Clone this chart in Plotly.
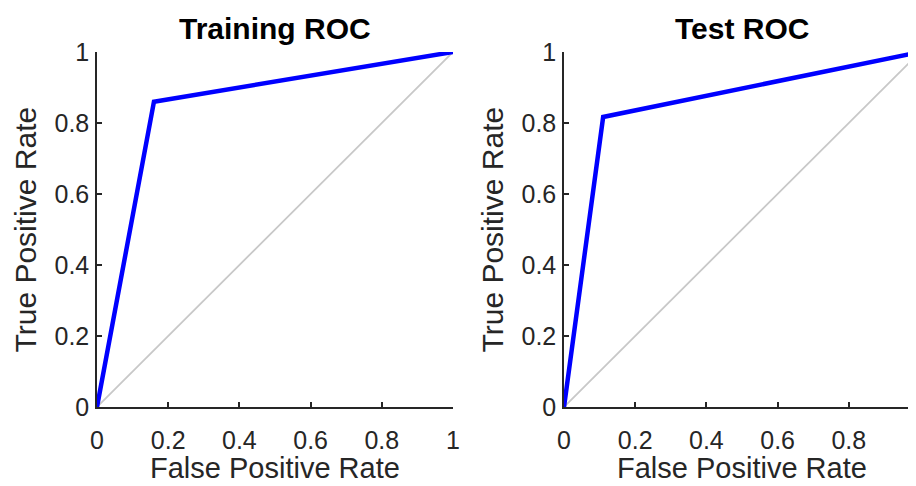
import plotly.graph_objects as go

# ---- data ----
train_fpr = [0, 0.16, 1]
train_tpr = [0, 0.86, 1]
test_fpr = [0, 0.11, 1]
test_tpr = [0, 0.817, 1]
diag_x = [0, 1]
diag_y = [0, 1]
tick_vals = [0, 0.2, 0.4, 0.6, 0.8, 1]
tick_text = ["0", "0.2", "0.4", "0.6", "0.8", "1"]
titles = ["Training ROC", "Test ROC"]
x_title = "False Positive Rate"
y_title = "True Positive Rate"

# the page body has an 8px margin, so the figure is drawn 8px smaller and shifted
OFF = 8
W, H = 916 - OFF, 486 - OFF
FONT = "Liberation Sans, Arial, Helvetica, sans-serif"
AX = "#262626"

# pixel geometry (in window pixels, converted below)
ax_l = [97 - OFF, 564 - OFF]
ax_w = 356
y_top, y_bot = 52 - OFF, 407 - OFF

fig = go.Figure()

for i, (fx, fy) in enumerate([(train_fpr, train_tpr), (test_fpr, test_tpr)]):
    xa = "x" if i == 0 else "x2"
    ya = "y" if i == 0 else "y2"
    fig.add_trace(go.Scatter(x=diag_x, y=diag_y, mode="lines",
                             line=dict(color="#c8c8c8", width=1.8),
                             xaxis=xa, yaxis=ya, showlegend=False, hoverinfo="skip"))
    fig.add_trace(go.Scatter(x=fx, y=fy, mode="lines",
                             line=dict(color="#0000ff", width=4.5),
                             xaxis=xa, yaxis=ya, showlegend=False))

common = dict(
    showgrid=False, zeroline=False, showline=True, linecolor=AX, linewidth=1.5,
    ticks="inside", ticklen=5, tickwidth=1.5, tickcolor=AX,
    tickvals=tick_vals, ticktext=tick_text,
    tickfont=dict(family=FONT, size=25, color=AX),
    mirror=False, fixedrange=True, automargin=False,
)

def dom_x(i):
    a = ax_l[i] / W
    b = min((ax_l[i] + ax_w) / W, 1.0)
    return [a, b]

ydom = [(H - y_bot) / H, (H - y_top) / H]

right_w = W - ax_l[1]
layout = dict(
    template="none",
    width=W, height=H, margin=dict(l=0, r=0, t=0, b=0, pad=0),
    paper_bgcolor="white", plot_bgcolor="white",
    font=dict(family=FONT, color=AX),
    xaxis=dict(common, domain=dom_x(0), range=[0, 1], anchor="y", ticklabelstandoff=10),
    yaxis=dict(common, domain=ydom, range=[0, 1], anchor="x", ticklabelstandoff=1),
    xaxis2=dict(common, domain=dom_x(1), range=[0, right_w / ax_w], anchor="y2", ticklabelstandoff=10),
    yaxis2=dict(common, domain=ydom, range=[0, 1], anchor="x2", ticklabelstandoff=1),
)
fig.update_layout(**layout)

annos = []
for i in range(2):
    cx = (ax_l[i] + ax_w / 2) / W
    annos.append(dict(text="<b>%s</b>" % titles[i], x=cx, y=(H - (28 - OFF)) / H,
                      xref="paper", yref="paper", showarrow=False,
                      xanchor="center", yanchor="middle",
                      font=dict(family=FONT, size=30, color="#000000")))
    annos.append(dict(text=x_title, x=cx, y=(H - (468 - OFF)) / H,
                      xref="paper", yref="paper", showarrow=False,
                      xanchor="center", yanchor="middle",
                      font=dict(family=FONT, size=29, color=AX)))
    annos.append(dict(text=y_title, x=(ax_l[i] - 72) / W, y=(H - (y_top + y_bot) / 2) / H,
                      xref="paper", yref="paper", showarrow=False, textangle=-90,
                      xanchor="center", yanchor="middle",
                      font=dict(family=FONT, size=30, color=AX)))
fig.update_layout(annotations=annos)

fig.write_html("out.html")
